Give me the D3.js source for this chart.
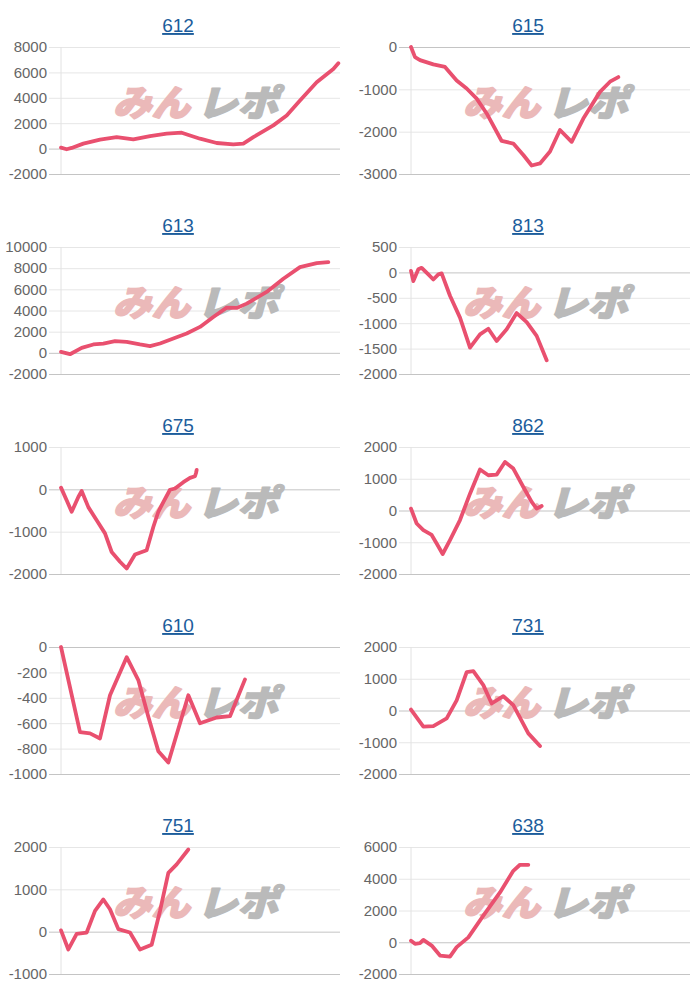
<!DOCTYPE html>
<html><head><meta charset="utf-8">
<script src="https://cdn.jsdelivr.net/npm/d3@7"></script>
<style>
html,body{margin:0;padding:0;background:#fff;}
svg{display:block;}
</style></head>
<body>
<svg id="c" width="700" height="1000"></svg>
<script>
// ---- data (x = games, y = coin difference) ----
const titles = ["612","615","613","813","675","862","610","731","751","638"];

const games612 = [0,162,306,640,1118,1596,2074,2552,3030,3460,3986,4464,4941,5228,5515,6088,6471,6853,7331,7809,7952];
const diff612  = [80,-50,50,390,700,900,730,990,1180,1250,780,440,340,390,900,1830,2610,3790,5230,6270,6720];
const ticks612 = [8000,6000,4000,2000,0,-2000];

const games615 = [0,115,258,640,975,1309,1596,1883,2170,2600,2934,3221,3460,3699,3986,4272,4607,4941,5419,5706,5945];
const diff615  = [0,-240,-310,-410,-470,-790,-980,-1220,-1570,-2220,-2280,-2550,-2800,-2750,-2470,-1960,-2240,-1690,-1060,-820,-710];
const ticks615 = [0,-1000,-2000,-3000];

const games613 = [0,258,593,927,1214,1548,1883,2265,2552,2839,3221,3603,3986,4368,4750,5037,5324,5897,6375,6853,7331,7666];
const diff613  = [90,-130,470,790,880,1100,1040,790,630,880,1350,1820,2450,3390,4270,4240,4650,5750,7000,8100,8480,8570];
const ticks613 = [10000,8000,6000,4000,2000,0,-2000];

const games813 = [0,67,210,306,497,640,784,879,1118,1405,1692,1978,2217,2456,2743,3030,3317,3603,3890];
const diff813  = [30,-170,60,90,-40,-140,-40,-20,-460,-890,-1480,-1220,-1110,-1350,-1120,-800,-980,-1250,-1730];
const ticks813 = [500,0,-500,-1000,-1500,-2000];

const games675 = [0,162,306,497,593,784,1023,1262,1453,1692,1883,2122,2456,2647,2791,2934,3125,3269,3508,3699,3842,3870,3890];
const diff675  = [40,-260,-530,-180,-40,-420,-730,-1040,-1480,-1710,-1870,-1540,-1440,-890,-530,-300,-10,20,170,270,310,380,460];
const ticks675 = [1000,0,-1000,-2000];

const games862 = [0,162,354,593,736,908,1118,1405,1692,1978,2217,2456,2695,2934,3221,3460,3603,3747];
const diff862  = [60,-410,-620,-770,-1040,-1370,-930,-300,530,1290,1110,1130,1530,1320,740,270,60,140];
const ticks862 = [2000,1000,0,-1000,-2000];

const games610 = [0,545,832,1118,1405,1883,2217,2504,2791,3078,3651,3986,4464,4846,5276];
const diff610  = [0,-670,-680,-720,-380,-80,-260,-550,-820,-910,-380,-600,-555,-545,-255];
const ticks610 = [0,-200,-400,-600,-800,-1000];

const games731 = [0,354,640,1023,1309,1596,1787,2074,2313,2647,2934,3364,3699];
const diff731  = [30,-510,-490,-250,320,1210,1240,800,220,450,170,-720,-1120];
const ticks731 = [2000,1000,0,-1000,-2000];

const games751 = [0,210,449,736,975,1214,1405,1644,1978,2265,2600,2839,3078,3317,3651];
const diff751  = [30,-420,-50,-20,490,760,530,60,-20,-420,-310,490,1390,1590,1940];
const ticks751 = [2000,1000,0,-1000];

const games638 = [0,115,258,354,593,832,1118,1309,1644,2074,2552,2934,3125,3364];
const diff638  = [100,-100,-60,150,-210,-840,-900,-310,310,1680,3140,4500,4880,4880];
const ticks638 = [6000,4000,2000,0,-2000];

const gameMax = 8000;

const panels = [
  {title: titles[0], g: games612, d: diff612, t: ticks612},
  {title: titles[1], g: games615, d: diff615, t: ticks615},
  {title: titles[2], g: games613, d: diff613, t: ticks613},
  {title: titles[3], g: games813, d: diff813, t: ticks813},
  {title: titles[4], g: games675, d: diff675, t: ticks675},
  {title: titles[5], g: games862, d: diff862, t: ticks862},
  {title: titles[6], g: games610, d: diff610, t: ticks610},
  {title: titles[7], g: games731, d: diff731, t: ticks731},
  {title: titles[8], g: games751, d: diff751, t: ticks751},
  {title: titles[9], g: games638, d: diff638, t: ticks638}
];

// ---- layout ----
const svg = d3.select("#c");
const PW = 350, PH = 200;
const pLeft = 61, pRight = 340, pTop = 47, pBottom = 174;
const gridStart = 49;
const lineColor = "#e9506f";

panels.forEach((p, i) => {
  const col = i % 2, row = Math.floor(i / 2);
  const g = svg.append("g").attr("transform", `translate(${col*PW},${row*PH})`);

  const x = d3.scaleLinear().domain([0, gameMax]).range([pLeft, pRight]);
  const y = d3.scaleLinear().domain([d3.min(p.t), d3.max(p.t)]).range([pBottom, pTop]);

  // title
  g.append("text")
    .attr("x", 178).attr("y", 32)
    .attr("text-anchor", "middle")
    .attr("font-family", "Liberation Sans, Arial, sans-serif")
    .attr("font-size", 19)
    .attr("fill", "#1c5d9c")
    .attr("text-decoration", "underline")
    .text(p.title);

  // y axis with gridlines
  const axis = d3.axisLeft(y)
    .tickValues(p.t)
    .tickSize(pRight - gridStart)
    .tickPadding(2)
    .tickFormat(d => String(d));
  const ag = g.append("g").attr("transform", `translate(${pRight},0)`).call(axis);
  ag.select(".domain").remove();
  ag.selectAll(".tick line")
    .attr("stroke", d => (d === 0 || d === d3.min(p.t)) ? "#c4c4c4" : "#e6e6e6")
    .attr("stroke-width", 1);
  ag.selectAll(".tick text")
    .attr("x", -(pRight - 47))
    .attr("font-family", "Liberation Sans, Arial, sans-serif")
    .attr("font-size", 15)
    .attr("fill", "#666");

  // left vertical axis line
  g.append("line")
    .attr("x1", pLeft).attr("x2", pLeft)
    .attr("y1", pTop).attr("y2", pBottom)
    .attr("stroke", "#e2e2e2");

  // watermark
  const wmStyle = sel => sel
    .attr("y", 116)
    .attr("font-family", "Noto Sans CJK JP, sans-serif")
    .attr("font-weight", 900)
    .attr("font-style", "italic")
    .attr("font-size", 36)
    .attr("lengthAdjust", "spacingAndGlyphs")
    .attr("stroke-width", 1.6)
    .attr("stroke-linejoin", "round");
  g.append("text").call(wmStyle)
    .attr("x", 113).attr("textLength", 77)
    .attr("fill", "#ebb9b9").attr("stroke", "#ebb9b9")
    .text("みん");
  g.append("text").call(wmStyle)
    .attr("x", 197).attr("textLength", 81)
    .attr("fill", "#bababa").attr("stroke", "#bababa")
    .text("レポ");

  // line
  const pts = p.g.map((v, k) => [v, p.d[k]]);
  g.append("path")
    .datum(pts)
    .attr("fill", "none")
    .attr("stroke", lineColor)
    .attr("stroke-width", 3.8)
    .attr("stroke-linejoin", "round")
    .attr("stroke-linecap", "round")
    .attr("d", d3.line().x(d => x(d[0])).y(d => y(d[1])));
});
</script>
</body></html>
